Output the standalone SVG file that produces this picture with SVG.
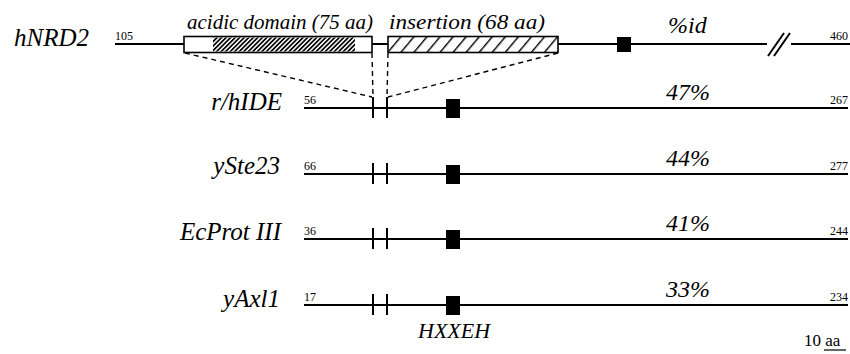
<svg xmlns="http://www.w3.org/2000/svg" width="850" height="354" viewBox="0 0 850 354">
<defs>
<pattern id="hd" patternUnits="userSpaceOnUse" width="3.2" height="3.2" patternTransform="rotate(45)"><rect x="0" y="0" width="1.7" height="3.2" fill="#000"/></pattern>
<pattern id="hi" patternUnits="userSpaceOnUse" width="10" height="10" patternTransform="rotate(40)"><rect x="0" y="0" width="1.4" height="10" fill="#000"/></pattern>
</defs>
<style>
.ln{stroke:#000;stroke-width:2;fill:none}
.tk{stroke:#000;stroke-width:2}
.ds{stroke:#000;stroke-width:1.4;stroke-dasharray:5,4;fill:none}
text{font-family:"Liberation Serif","Times New Roman","DejaVu Serif",serif}
.nm{font-style:italic;font-size:25px}
.pc{font-style:italic;font-size:24px}
.num{font-size:12px}
.dom{font-style:italic;font-size:22px}
</style>
<g id="hNRD2">
<text class="nm" x="14" y="46">hNRD2</text>
<text class="num" x="115" y="40">105</text>
<line class="ln" x1="115" y1="44" x2="185" y2="44"/>
<rect x="184" y="36.5" width="188" height="16" fill="#fff" stroke="#000" stroke-width="1.6"/>
<rect x="213" y="37.5" width="142" height="14" fill="url(#hd)"/>
<line class="ln" x1="372" y1="44" x2="388" y2="44"/>
<rect x="388" y="36.5" width="170" height="16" fill="url(#hi)" stroke="#000" stroke-width="1.6"/>
<line class="ln" x1="558" y1="44" x2="767" y2="44"/>
<rect x="617" y="37" width="14" height="15" fill="#000"/>
<line class="tk" x1="768" y1="56" x2="784" y2="33" stroke-width="1.3"/>
<line class="tk" x1="774" y1="56" x2="790" y2="33" stroke-width="1.3"/>
<line class="ln" x1="791" y1="44" x2="850" y2="44"/>
<text class="num" x="848" y="40" text-anchor="end">460</text>
<text class="dom" x="187" y="29" textLength="186" lengthAdjust="spacingAndGlyphs">acidic domain (75 aa)</text>
<text class="dom" x="389" y="29" textLength="156" lengthAdjust="spacingAndGlyphs">insertion (68 aa)</text>
<text class="pc" x="668" y="33">%id</text>
</g>
<g id="connectors">
<line class="ds" x1="185" y1="53" x2="372" y2="97"/>
<line class="ds" x1="372" y1="53" x2="373" y2="97"/>
<line class="ds" x1="388" y1="53" x2="387" y2="97"/>
<line class="ds" x1="558" y1="53" x2="388" y2="97"/>
</g>
<g id="rhIDE">
<text class="nm" x="282" y="110" text-anchor="end">r/hIDE</text>
<text class="num" x="304" y="104">56</text>
<line class="ln" x1="304" y1="108" x2="848" y2="108"/>
<line class="tk" x1="373" y1="97" x2="373" y2="118"/>
<line class="tk" x1="387" y1="97" x2="387" y2="118"/>
<rect x="446" y="99" width="14" height="19" fill="#000"/>
<text class="pc" x="666" y="100">47%</text>
<text class="num" x="848" y="104" text-anchor="end">267</text>
</g>
<g id="ySte23">
<text class="nm" x="280" y="174" text-anchor="end">ySte23</text>
<text class="num" x="304" y="170">66</text>
<line class="ln" x1="304" y1="174" x2="848" y2="174"/>
<line class="tk" x1="373" y1="163" x2="373" y2="184"/>
<line class="tk" x1="387" y1="163" x2="387" y2="184"/>
<rect x="446" y="165" width="14" height="19" fill="#000"/>
<text class="pc" x="666" y="166">44%</text>
<text class="num" x="848" y="170" text-anchor="end">277</text>
</g>
<g id="EcProtIII">
<text class="nm" x="281" y="240" text-anchor="end">EcProt III</text>
<text class="num" x="304" y="235">36</text>
<line class="ln" x1="304" y1="239" x2="848" y2="239"/>
<line class="tk" x1="373" y1="228" x2="373" y2="249"/>
<line class="tk" x1="387" y1="228" x2="387" y2="249"/>
<rect x="446" y="230" width="14" height="19" fill="#000"/>
<text class="pc" x="666" y="231">41%</text>
<text class="num" x="848" y="235" text-anchor="end">244</text>
</g>
<g id="yAxl1">
<text class="nm" x="280" y="307" text-anchor="end">yAxl1</text>
<text class="num" x="304" y="301">17</text>
<line class="ln" x1="304" y1="305" x2="848" y2="305"/>
<line class="tk" x1="373" y1="294" x2="373" y2="315"/>
<line class="tk" x1="387" y1="294" x2="387" y2="315"/>
<rect x="446" y="296" width="14" height="19" fill="#000"/>
<text class="pc" x="666" y="297">33%</text>
<text class="num" x="848" y="301" text-anchor="end">234</text>
<text class="dom" x="418" y="338">HXXEH</text>
</g>
<g id="scale">
<text x="804" y="346" font-size="17">10 aa</text>
<line x1="824" y1="350" x2="846" y2="350" stroke="#000" stroke-width="1.2"/>
</g>
</svg>
